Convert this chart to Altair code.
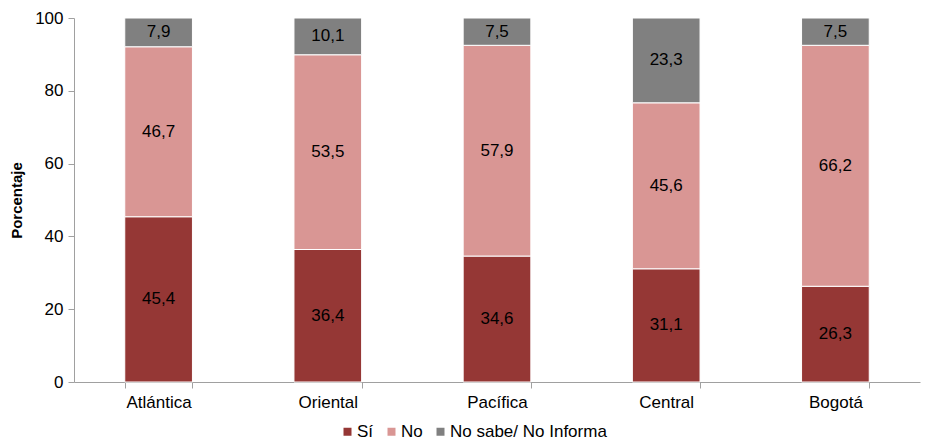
import altair as alt
import pandas as pd

regions = ["Atlántica", "Oriental", "Pacífica", "Central", "Bogotá"]
si = [45.4, 36.4, 34.6, 31.1, 26.3]
no = [46.7, 53.5, 57.9, 45.6, 66.2]
ns = [7.9, 10.1, 7.5, 23.3, 7.5]
series = ["Sí", "No", "No sabe/ No Informa"]
colors = ["#953735", "#D99694", "#808080"]

rows = []
for i, r in enumerate(regions):
    for k, (s, vals) in enumerate(zip(series, [si, no, ns])):
        v = vals[i]
        rows.append({"region": r, "serie": s, "valor": v, "orden": k,
                     "etiqueta": f"{v:.1f}".replace(".", ",")})
df = pd.DataFrame(rows)

FONT = "Liberation Sans"

base = alt.Chart(df).transform_stack(
    stack="valor", groupby=["region"], as_=["y0", "y1"],
    sort=[alt.SortField("orden", order="ascending")]
).transform_calculate(mid="(datum.y0 + datum.y1) / 2")

xenc = alt.X("region:N", sort=regions, title=None,
             scale=alt.Scale(paddingInner=0.6, paddingOuter=0.3),
             axis=alt.Axis(labelAngle=0, tickBand="extent", labelFontSize=17,
                           labelFont=FONT, labelColor="#000000", domainColor="#A0A0A0",
                           tickColor="#A0A0A0", tickSize=6, labelPadding=6))

bars = base.mark_bar(stroke="white", strokeWidth=1).encode(
    x=xenc,
    y=alt.Y("y0:Q", title="Porcentaje",
            scale=alt.Scale(domain=[0, 100], nice=False),
            axis=alt.Axis(values=[0, 20, 40, 60, 80, 100], grid=False,
                          labelFontSize=17, labelFont=FONT, labelColor="#000000",
                          titleFont=FONT, titleFontSize=15, titleFontWeight="bold",
                          titleColor="#000000", titlePadding=10,
                          domainColor="#A0A0A0", tickColor="#A0A0A0",
                          tickSize=6, labelPadding=5)),
    y2="y1:Q",
    color=alt.Color("serie:N", sort=series,
                    scale=alt.Scale(domain=series, range=colors),
                    legend=alt.Legend(title=None, orient="none", direction="horizontal",
                                      legendX=265, legendY=405, symbolType="square",
                                      symbolSize=64, symbolStrokeWidth=0,
                                      labelFontSize=17, labelFont=FONT,
                                      labelColor="#000000", columnPadding=9,
                                      labelOffset=1, symbolOpacity=1)),
    order=alt.Order("orden:Q"),
)

labels = base.mark_text(fontSize=17, font=FONT, color="#000000").encode(
    x=alt.X("region:N", sort=regions),
    y=alt.Y("mid:Q"),
    text="etiqueta:N",
)

chart = (bars + labels).properties(
    width=846, height=364,
    autosize=alt.AutoSizeParams(type="none"),
    padding={"left": 66, "top": 10, "right": 2, "bottom": 59},
).configure_view(stroke=None)

chart.save("out.html", embed_options={"renderer": "svg", "actions": False})
